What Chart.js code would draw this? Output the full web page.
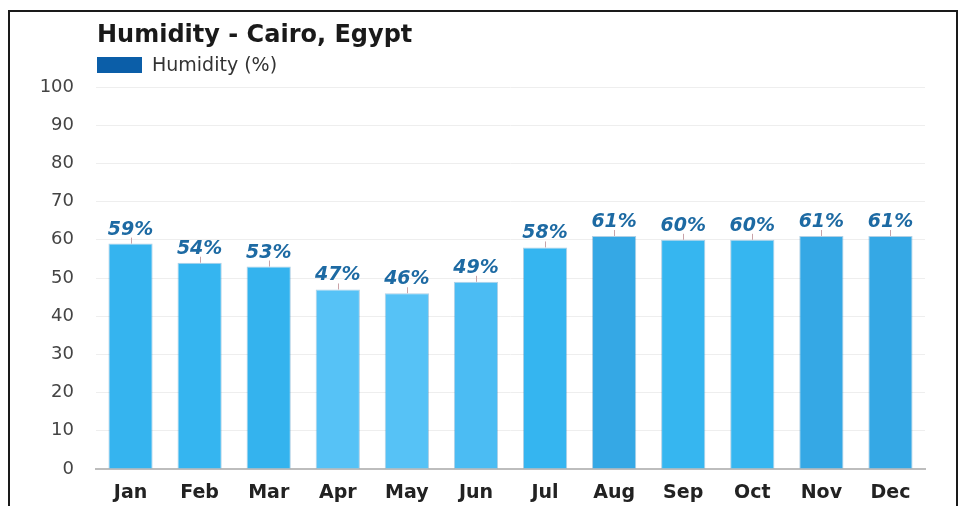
<!DOCTYPE html>
<html>
<head>
<meta charset="utf-8">
<script src="https://cdn.jsdelivr.net/npm/chart.js@4"></script>
<style>
  html, body { margin: 0; padding: 0; background: #fff; }
  #wrap { position: absolute; left: 0; top: 0; width: 960px; height: 506px; }
</style>
</head>
<body>
<div id="wrap"><canvas id="humidityChart" width="960" height="506"></canvas></div>
<script>
// Data
var months = ['Jan', 'Feb', 'Mar', 'Apr', 'May', 'Jun', 'Jul', 'Aug', 'Sep', 'Oct', 'Nov', 'Dec'];
var humidity = [59, 54, 53, 47, 46, 49, 58, 61, 60, 60, 61, 61];
var yTicks = [0, 10, 20, 30, 40, 50, 60, 70, 80, 90, 100];

// Bar colours (slightly lighter for the drier months)
var barColors = ['#35b4ef', '#35b5f0', '#34b3ee', '#56c2f6', '#56c2f6', '#4bbcf3',
                 '#35b5f0', '#35a8e5', '#36b6f0', '#36b6f0', '#35a8e5', '#35a8e5'];

var FONT = '"DejaVu Sans", Verdana, sans-serif';

// Frame, title, legend and value labels
var decorPlugin = {
    id: 'decor',
    beforeDraw: function(chart) {
        var ctx = chart.ctx;
        ctx.save();
        ctx.fillStyle = '#ffffff';
        ctx.fillRect(0, 0, chart.width, chart.height);
        // black frame (left, top, right)
        ctx.strokeStyle = '#1a1a1a';
        ctx.lineWidth = 2;
        ctx.beginPath();
        ctx.moveTo(9, 506);
        ctx.lineTo(9, 11);
        ctx.lineTo(957, 11);
        ctx.lineTo(957, 506);
        ctx.stroke();
        ctx.restore();
    },
    afterDraw: function(chart) {
        var ctx = chart.ctx;
        var left = chart.chartArea.left;
        ctx.save();
        // title
        ctx.fillStyle = '#1a1a1a';
        ctx.font = 'bold 24px ' + FONT;
        ctx.textAlign = 'left';
        ctx.textBaseline = 'middle';
        ctx.fillText('Humidity - Cairo, Egypt', left + 1, 36);
        // legend
        ctx.fillStyle = '#0b5ea8';
        ctx.fillRect(left + 1, 57, 45, 16);
        ctx.fillStyle = '#333333';
        ctx.font = '19px ' + FONT;
        ctx.fillText(chart.data.datasets[0].label, left + 56, 66);

        // small ticks and value labels above bars
        var meta = chart.getDatasetMeta(0);
        meta.data.forEach(function(bar, i) {
            ctx.strokeStyle = '#c9a3a8';
            ctx.lineWidth = 1;
            ctx.beginPath();
            ctx.moveTo(Math.round(bar.x) + 0.5, bar.y);
            ctx.lineTo(Math.round(bar.x) + 0.5, bar.y - 6);
            ctx.stroke();
            ctx.fillStyle = '#1d6aa3';
            ctx.font = 'italic bold 19px ' + FONT;
            ctx.textAlign = 'center';
            ctx.textBaseline = 'alphabetic';
            ctx.fillText(humidity[i] + '%', bar.x, bar.y - 9);
        });
        ctx.restore();
    }
};

var ctx = document.getElementById('humidityChart').getContext('2d');
var chart = new Chart(ctx, {
    type: 'bar',
    data: {
        labels: months,
        datasets: [{
            label: 'Humidity (%)',
            data: humidity,
            backgroundColor: barColors,
            borderColor: 'rgba(30, 120, 180, 0.35)',
            borderWidth: 1,
            categoryPercentage: 1,
            barPercentage: 0.64
        }]
    },
    options: {
        responsive: false,
        animation: false,
        layout: {
            padding: { left: 36, top: 87, right: 35, bottom: 1 }
        },
        plugins: {
            legend: { display: false },
            title: { display: false },
            tooltip: { enabled: false }
        },
        scales: {
            x: {
                grid: { display: false },
                border: { color: '#bdbdbd', width: 2 },
                ticks: {
                    color: '#222222',
                    font: { family: FONT, size: 19, weight: 'bold' },
                    padding: 5
                },
                afterFit: function(scale) { scale.height = 36; }
            },
            y: {
                min: 0,
                max: 100,
                afterBuildTicks: function(scale) {
                    scale.ticks = yTicks.map(function(v) { return { value: v }; });
                },
                grid: { color: '#eeeeee', drawTicks: false },
                border: { display: false },
                ticks: {
                    color: '#444444',
                    font: { family: FONT, size: 18 },
                    padding: 22
                },
                afterFit: function(scale) { scale.width = 60; }
            }
        }
    },
    plugins: [decorPlugin]
});
</script>
</body>
</html>
